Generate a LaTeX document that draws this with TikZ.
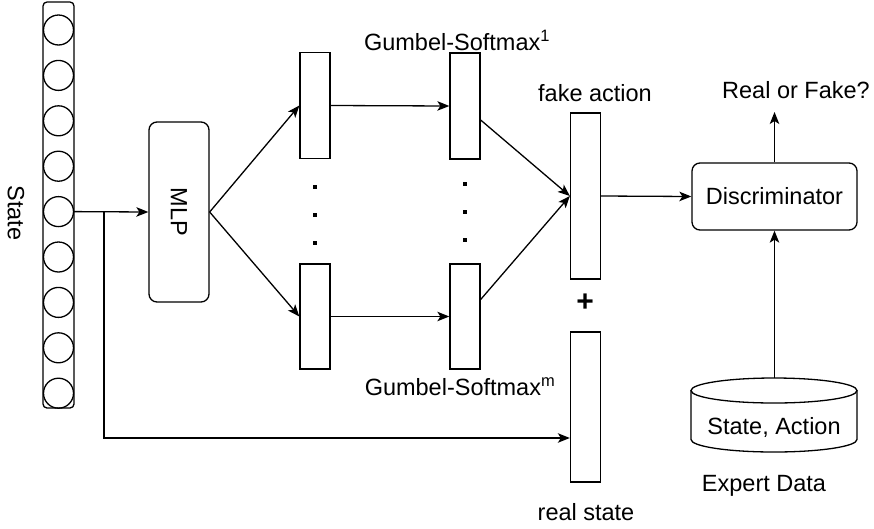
\documentclass[tikz,border=0pt]{standalone}
\usepackage{fontspec}
\setmainfont{Liberation Sans}
\usetikzlibrary{arrows.meta,calc}

\begin{document}
\begin{tikzpicture}[x=1pt,y=-1pt,
  every node/.style={font=\fontsize{23.5}{28}\selectfont, inner sep=0pt},
  line width=1.3pt,
  arr/.style={-{Stealth[length=12pt,width=9.5pt,inset=3pt]}},
  bar/.style={draw, minimum width=30pt},
  neuron/.style={draw, circle, minimum size=30pt},
  roundbox/.style={draw, rounded corners=8pt},
  dotmark/.style={fill=black, minimum size=4.5pt}]
\useasboundingbox (0,0) rectangle (874,528);

% input state vector
\node[draw, rounded corners=4pt, minimum width=31pt, minimum height=406pt] (col) at (58.5,205) {};
\foreach \i in {1,...,9}
  \node[neuron] (c\i) at (58.5,{30+45.4*(\i-1)}) {};
\node[rotate=-90] (statelbl) at (16,213) {State};

% MLP
\node[roundbox, minimum width=60pt, minimum height=180pt] (mlp) at (179,212) {};
\node[rotate=-90] at (mlp.center) {MLP};

% per-head layers
\node[bar, minimum height=106pt] (b1u) at (315,105.5) {};
\node[bar, minimum height=105pt] (b1d) at (315,316.5) {};
\node[bar, minimum height=106pt] (b2u) at (465,106) {};
\node[bar, minimum height=105pt] (b2d) at (465,316.5) {};
\foreach \y [count=\k] in {187,215,243} \node[dotmark] (d1\k) at (315,\y) {};
\foreach \y [count=\k] in {184,212,240} \node[dotmark] (d2\k) at (465,\y) {};
\node (gs1) at (457,40) {Gumbel-Softmax\textsuperscript{1}};
\node (gsm) at (460,387) {Gumbel-Softmax\textsuperscript{m}};

% fake action and real state
\node[bar, minimum height=166pt] (fa) at (585.5,196) {};
\node[bar, minimum height=150pt] (rs) at (585.5,407) {};
\node (falbl) at (595,93) {fake action};
\node (rslbl) at (586,512) {real state};
\node[font=\fontsize{30}{32}\selectfont\bfseries] (plus) at (585,303) {+};

% discriminator
\node[roundbox, minimum width=165pt, minimum height=67pt] (disc) at (774.5,196.5) {Discriminator};
\coordinate (out) at (774.5,112);
\node (rf) at (796,90) {Real or Fake?};

% expert data store
\draw (774,390.5) ellipse [x radius=83pt, y radius=12.5pt];
\draw (691,390.5) -- (691,439.5) arc [start angle=180, end angle=360, x radius=83pt, y radius=12.5pt] -- (857,390.5);
\coordinate (dbtop) at (774.5,378);
\node (db) at (774,427) {State, Action};
\node (edlbl) at (764,486) {Expert Data};

% connectors
\coordinate (br) at (104,211.6);
\draw[arr] (c5.east) -- (mlp.west);
\draw[arr] (br) |- ($(rs.west)+(0,31)$);
\draw[arr] (mlp.east) -- (b1u.west);
\draw[arr] (mlp.east) -- (b1d.west);
\draw[arr] (b1u.east) -- (b2u.west);
\draw[arr] (b1d.east) -- (b2d.west);
\draw[arr] ($(b2u.east)+(0,14)$) -- (fa.west);
\draw[arr] ($(b2d.east)+(0,-17)$) -- (fa.west);
\draw[arr] (fa.east) -- (disc.west);
\draw[arr] (disc.north) -- (out);
\draw[arr] (dbtop) -- (disc.south);
\end{tikzpicture}
\end{document}
